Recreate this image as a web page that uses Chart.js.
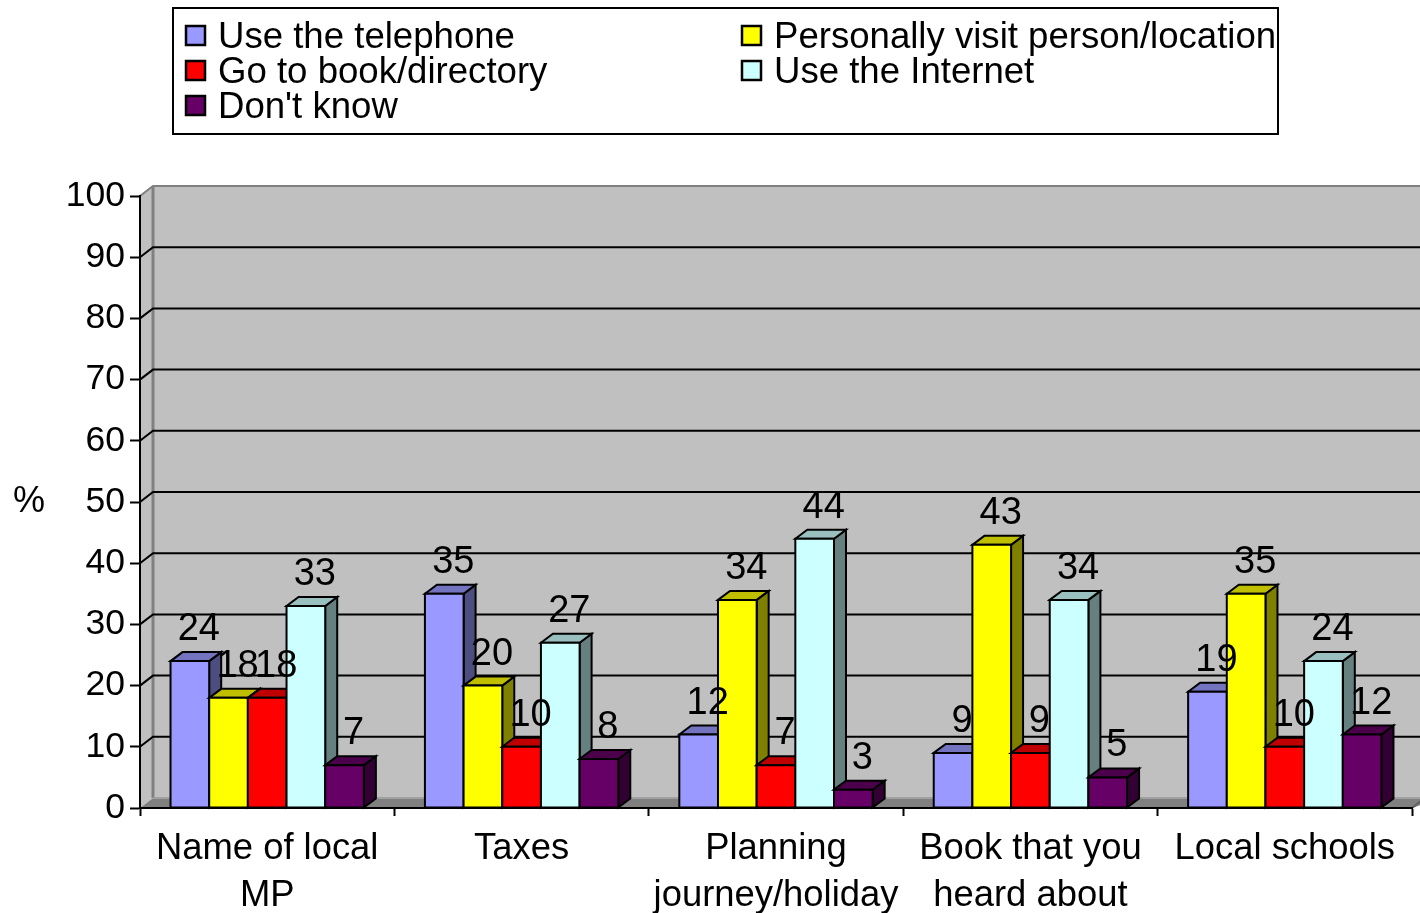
<!DOCTYPE html>
<html>
<head>
<meta charset="utf-8">
<script src="https://cdn.jsdelivr.net/npm/chart.js@4.4.1/dist/chart.umd.min.js"></script>
<style>
  html, body { margin: 0; padding: 0; background: #ffffff; }
  canvas { display: block; }
</style>
</head>
<body>
<canvas id="chart" width="1420" height="913"></canvas>
<script>
// Survey: how people would find out about each topic (%)
const categories = [
  ['Name of local', 'MP'],
  ['Taxes'],
  ['Planning', 'journey/holiday'],
  ['Book that you', 'heard about'],
  ['Local schools']
];
const seriesNames = [
  'Use the telephone',
  'Personally visit person/location',
  'Go to book/directory',
  'Use the Internet',
  "Don't know"
];
const useTelephone   = [24, 35, 12, 9, 19];
const personalVisit  = [18, 20, 34, 43, 35];
const bookDirectory  = [18, 10, 7, 9, 10];
const useInternet    = [33, 27, 44, 34, 24];
const dontKnow       = [7, 8, 3, 5, 12];
const yTickValues    = [0, 10, 20, 30, 40, 50, 60, 70, 80, 90, 100];
const yAxisTitle     = '%';

const seriesData = [useTelephone, personalVisit, bookDirectory, useInternet, dontKnow];

// face colours: front, top (lit), side (shaded)
const frontColors = ['#9999ff', '#ffff00', '#ff0000', '#ccffff', '#660066'];
const topColors   = ['#7373bf', '#bfbf00', '#bf0000', '#99bfbf', '#4c004c'];
const sideColors  = ['#4d4d80', '#808000', '#800000', '#668080', '#330033'];

const FONT = '"Liberation Sans", Arial, Helvetica, sans-serif';
const WALL_DX = 13, WALL_DY = 10;   // depth of the back wall
const BAR_DX = 12, BAR_DY = 9;      // depth of each bar

function poly(ctx, pts) {
  ctx.beginPath();
  ctx.moveTo(pts[0][0], pts[0][1]);
  for (let i = 1; i < pts.length; i++) ctx.lineTo(pts[i][0], pts[i][1]);
  ctx.closePath();
}

// grey back wall, side wall, floor and gridlines
const wall3d = {
  id: 'wall3d',
  beforeDraw(chart) {
    const { ctx, chartArea: a, scales: { y } } = chart;
    const W = chart.width;
    const y0 = y.getPixelForValue(yTickValues[0]);
    const yTop = y.getPixelForValue(yTickValues[yTickValues.length - 1]);
    ctx.save();
    ctx.fillStyle = '#c0c0c0';
    ctx.fillRect(a.left + WALL_DX, yTop - WALL_DY, W - a.left, y0 - yTop);
    poly(ctx, [[a.left, yTop], [a.left + WALL_DX, yTop - WALL_DY], [a.left + WALL_DX, y0 - WALL_DY], [a.left, y0]]);
    ctx.fill();
    ctx.fillStyle = '#808080';
    poly(ctx, [[a.left, y0], [a.left + WALL_DX, y0 - WALL_DY], [W + 20, y0 - WALL_DY], [a.right, y0]]);
    ctx.fill();
    // wall edges
    ctx.strokeStyle = '#808080';
    ctx.lineWidth = 3;
    ctx.beginPath();
    ctx.moveTo(a.left + WALL_DX, y0 - WALL_DY);
    ctx.lineTo(a.left + WALL_DX, yTop - WALL_DY);
    ctx.stroke();
    ctx.lineWidth = 2;
    ctx.beginPath();
    ctx.moveTo(a.left, yTop);
    ctx.lineTo(a.left + WALL_DX, yTop - WALL_DY);
    ctx.lineTo(W, yTop - WALL_DY);
    ctx.stroke();
    ctx.strokeStyle = '#a0a0a0';
    ctx.beginPath();
    ctx.moveTo(a.left + WALL_DX, y0 - WALL_DY);
    ctx.lineTo(W, y0 - WALL_DY);
    ctx.stroke();
    ctx.strokeStyle = '#606060';
    ctx.beginPath();
    ctx.moveTo(a.right, y0);
    ctx.lineTo(a.right + WALL_DX, y0 - WALL_DY);
    ctx.stroke();
    // gridlines on the walls
    ctx.strokeStyle = '#000000';
    ctx.lineWidth = 2;
    yTickValues.slice(1, -1).forEach(v => {
      const py = y.getPixelForValue(v);
      ctx.beginPath();
      ctx.moveTo(a.left, py);
      ctx.lineTo(a.left + WALL_DX, py - WALL_DY);
      ctx.lineTo(W, py - WALL_DY);
      ctx.stroke();
    });
    ctx.restore();
  }
};

// extruded bars with value labels
const bars3d = {
  id: 'bars3d',
  beforeDatasetsDraw(chart) {
    const ctx = chart.ctx;
    ctx.save();
    ctx.lineWidth = 2;
    ctx.lineJoin = 'miter';
    ctx.strokeStyle = '#000000';
    const labels = [];
    chart.data.datasets.forEach((ds, di) => {
      const meta = chart.getDatasetMeta(di);
      meta.data.forEach((bar, i) => {
        const { x, y, base, width } = bar.getProps(['x', 'y', 'base', 'width'], true);
        const l = x - width / 2, r = x + width / 2;
        poly(ctx, [[r, base], [r + BAR_DX, base - BAR_DY], [r + BAR_DX, y - BAR_DY], [r, y]]);
        ctx.fillStyle = sideColors[di]; ctx.fill(); ctx.stroke();
        poly(ctx, [[l, y], [l + BAR_DX, y - BAR_DY], [r + BAR_DX, y - BAR_DY], [r, y]]);
        ctx.fillStyle = topColors[di]; ctx.fill(); ctx.stroke();
        poly(ctx, [[l, y], [r, y], [r, base], [l, base]]);
        ctx.fillStyle = frontColors[di]; ctx.fill(); ctx.stroke();
        labels.push({ text: String(ds.data[i]), x: x + 9, y: y - 21 });
      });
    });
    ctx.fillStyle = '#000000';
    ctx.font = '38px ' + FONT;
    ctx.textAlign = 'center';
    ctx.textBaseline = 'alphabetic';
    labels.forEach(lb => ctx.fillText(lb.text, lb.x, lb.y));
    ctx.restore();
    return false;
  }
};

// boxed two-column legend and the y-axis title
const legendBox = {
  id: 'legendBox',
  afterDraw(chart) {
    const ctx = chart.ctx;
    ctx.save();
    ctx.fillStyle = '#ffffff';
    ctx.fillRect(173, 8, 1105, 126);
    ctx.strokeStyle = '#000000';
    ctx.lineWidth = 2;
    ctx.strokeRect(173, 8, 1105, 126);
    const colX = [186, 742];
    const rowY = [37, 72, 107];
    ctx.font = '36.6px ' + FONT;
    ctx.textBaseline = 'middle';
    ctx.textAlign = 'left';
    chart.data.datasets.forEach((ds, i) => {
      const cx = colX[i % 2], cy = rowY[Math.floor(i / 2)];
      ctx.fillStyle = ds.backgroundColor;
      ctx.fillRect(cx, cy - 11, 19, 19);
      ctx.lineWidth = 2.5;
      ctx.strokeStyle = '#000000';
      ctx.strokeRect(cx, cy - 11, 19, 19);
      ctx.fillStyle = '#000000';
      ctx.fillText(ds.label, cx + 32, cy + 1);
    });
    ctx.font = '36px ' + FONT;
    ctx.textAlign = 'center';
    ctx.fillText(yAxisTitle, 29, 502);
    ctx.restore();
  }
};

new Chart(document.getElementById('chart'), {
  type: 'bar',
  data: {
    labels: categories,
    datasets: seriesNames.map((name, i) => ({
      label: name,
      data: seriesData[i],
      backgroundColor: frontColors[i],
      borderColor: '#000000',
      borderWidth: 2,
      categoryPercentage: 0.76,
      barPercentage: 1.0
    }))
  },
  options: {
    responsive: false,
    animation: false,
    devicePixelRatio: 1,
    layout: { padding: { top: 196, right: 8, left: 0, bottom: 0 } },
    plugins: { legend: { display: false }, tooltip: { enabled: false } },
    scales: {
      x: {
        offset: true,
        grid: { display: true, drawOnChartArea: false, drawTicks: true, tickLength: 8, tickColor: '#000000', tickWidth: 2, offset: true },
        border: { display: true, color: '#000000', width: 2 },
        ticks: { color: '#000000', font: { family: FONT, size: 36.4, lineHeight: 1.28 }, padding: 10, maxRotation: 0, minRotation: 0, autoSkip: false },
        afterFit(scale) { scale.height = 105; }
      },
      y: {
        min: yTickValues[0],
        max: yTickValues[yTickValues.length - 1],
        afterBuildTicks(scale) { scale.ticks = yTickValues.map(v => ({ value: v })); },
        grid: { display: true, drawOnChartArea: false, drawTicks: true, tickLength: 10, tickColor: '#000000', tickWidth: 2 },
        border: { display: true, color: '#000000', width: 2 },
        ticks: { color: '#000000', font: { family: FONT, size: 35.5 }, padding: 5 },
        afterFit(scale) { scale.width = 140; }
      }
    }
  },
  plugins: [wall3d, bars3d, legendBox]
});
</script>
</body>
</html>
